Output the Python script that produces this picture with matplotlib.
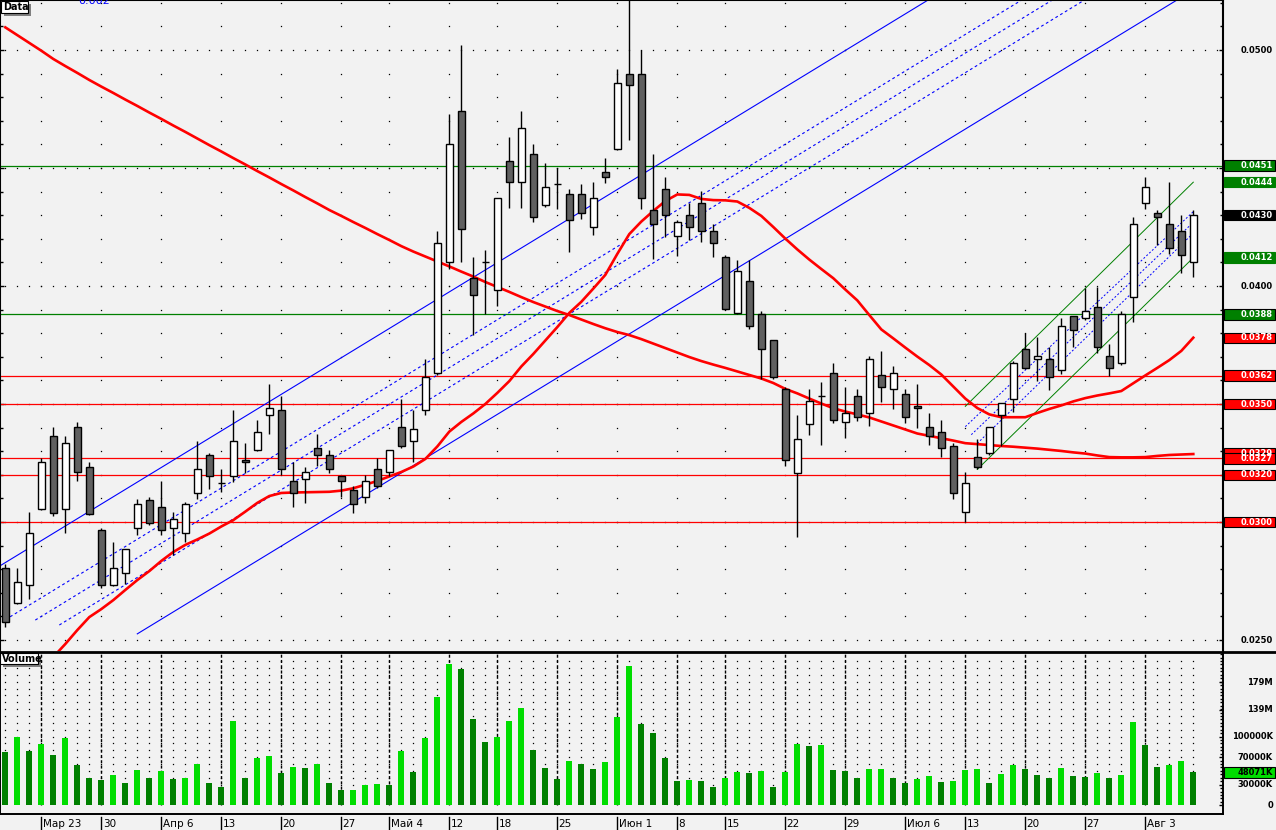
import matplotlib
matplotlib.use("Agg")
import matplotlib.pyplot as plt
import numpy as np
from matplotlib import transforms
from matplotlib.patches import Rectangle
from matplotlib.lines import Line2D

# ---------------- data ----------------
tick_pos = [3, 8, 13, 18, 23, 28, 32, 37, 41, 46, 51, 56, 60, 65, 70, 75, 80, 85, 90, 95]
tick_labels = ["Мар 23", "30", "Апр 6", "13", "20", "27", "Май 4", "12", "18", "25",
               "Июн 1", "8", "15", "22", "29", "Июл 6", "13", "20", "27", "Авг 3"]

opens = [0.02804, 0.02656, 0.02732, 0.03054, 0.03364, 0.03054, 0.03401, 0.03232, 0.02966, 0.02732,
         0.02783, 0.02973, 0.03092, 0.03062, 0.02973, 0.02955, 0.03122, 0.03283, 0.03164, 0.03194,
         0.03261, 0.03304, 0.03452, 0.03473, 0.03172, 0.03181, 0.03312, 0.03283, 0.03194, 0.03134,
         0.03105, 0.03223, 0.03211, 0.03401, 0.03342, 0.03473, 0.03630, 0.04100, 0.04740, 0.04034,
         0.04100, 0.03982, 0.04528, 0.04439, 0.04558, 0.04342, 0.04432, 0.04389, 0.04389, 0.04249,
         0.04482, 0.04579, 0.04897, 0.04897, 0.04321, 0.04410, 0.04211, 0.04300, 0.04350, 0.04232,
         0.04122, 0.03884, 0.04020, 0.03880, 0.03770, 0.03562, 0.03206, 0.03414, 0.03533, 0.03630,
         0.03422, 0.03533, 0.03461, 0.03622, 0.03562, 0.03541, 0.03490, 0.03401, 0.03380, 0.03321,
         0.03041, 0.03274, 0.03291, 0.03452, 0.03520, 0.03732, 0.03689, 0.03689, 0.03643, 0.03872,
         0.03863, 0.03910, 0.03702, 0.03672, 0.03952, 0.04350, 0.04308, 0.04261, 0.04232, 0.04100]
highs = [0.02822, 0.02804, 0.03041, 0.03270, 0.03404, 0.03364, 0.03424, 0.03254, 0.02975, 0.02914,
         0.02886, 0.03096, 0.03105, 0.03175, 0.03041, 0.03083, 0.03342, 0.03291, 0.03223, 0.03473,
         0.03333, 0.03431, 0.03585, 0.03534, 0.03253, 0.03232, 0.03372, 0.03304, 0.03195, 0.03153,
         0.03198, 0.03270, 0.03306, 0.03521, 0.03473, 0.03689, 0.04233, 0.04729, 0.05021, 0.04122,
         0.04153, 0.04375, 0.04633, 0.04742, 0.04602, 0.04520, 0.04499, 0.04410, 0.04432, 0.04439,
         0.04541, 0.04918, 0.05260, 0.05000, 0.04558, 0.04461, 0.04278, 0.04350, 0.04401, 0.04261,
         0.04130, 0.04110, 0.04110, 0.03893, 0.03772, 0.03571, 0.03452, 0.03562, 0.03592, 0.03672,
         0.03571, 0.03562, 0.03702, 0.03723, 0.03660, 0.03562, 0.03583, 0.03461, 0.03431, 0.03333,
         0.03211, 0.03350, 0.03403, 0.03505, 0.03681, 0.03800, 0.03783, 0.03740, 0.03863, 0.03873,
         0.03990, 0.03994, 0.03753, 0.03893, 0.04291, 0.04461, 0.04321, 0.04439, 0.04300, 0.04321]
lows = [0.02556, 0.02654, 0.02675, 0.03050, 0.03027, 0.02955, 0.03175, 0.03030, 0.02719, 0.02728,
        0.02736, 0.02945, 0.02986, 0.02945, 0.02859, 0.02914, 0.03096, 0.03139, 0.03126, 0.03168,
        0.03206, 0.03300, 0.03374, 0.03199, 0.03065, 0.03079, 0.03236, 0.03206, 0.03105, 0.03037,
        0.03079, 0.03143, 0.03196, 0.03312, 0.03253, 0.03455, 0.03625, 0.04073, 0.04103, 0.03794,
        0.03881, 0.03914, 0.04332, 0.04332, 0.04272, 0.04333, 0.04325, 0.04143, 0.04283, 0.04215,
        0.04435, 0.04575, 0.04619, 0.04325, 0.04113, 0.04206, 0.04126, 0.04194, 0.04185, 0.04124,
        0.03899, 0.03880, 0.03817, 0.03605, 0.03605, 0.03236, 0.02938, 0.03367, 0.03325, 0.03418,
        0.03355, 0.03427, 0.03405, 0.03507, 0.03478, 0.03418, 0.03397, 0.03325, 0.03274, 0.03096,
        0.02999, 0.03223, 0.03283, 0.03321, 0.03465, 0.03647, 0.03596, 0.03558, 0.03626, 0.03743,
        0.03855, 0.03715, 0.03617, 0.03664, 0.03846, 0.04325, 0.04172, 0.04134, 0.04054, 0.04037]
closes = [0.02575, 0.02745, 0.02952, 0.03253, 0.03039, 0.03333, 0.03211, 0.03033, 0.02732, 0.02804,
          0.02884, 0.03075, 0.02994, 0.02965, 0.03011, 0.03075, 0.03223, 0.03194, 0.03164, 0.03342,
          0.03253, 0.03380, 0.03482, 0.03223, 0.03122, 0.03211, 0.03283, 0.03223, 0.03172, 0.03075,
          0.03172, 0.03151, 0.03304, 0.03321, 0.03393, 0.03613, 0.04181, 0.04600, 0.04240, 0.03961,
          0.04100, 0.04372, 0.04439, 0.04669, 0.04291, 0.04418, 0.04432, 0.04278, 0.04308, 0.04372,
          0.04461, 0.04859, 0.04850, 0.04372, 0.04261, 0.04300, 0.04270, 0.04249, 0.04232, 0.04181,
          0.03901, 0.04062, 0.03829, 0.03732, 0.03613, 0.03261, 0.03350, 0.03511, 0.03533, 0.03431,
          0.03461, 0.03444, 0.03689, 0.03571, 0.03630, 0.03444, 0.03482, 0.03363, 0.03312, 0.03122,
          0.03164, 0.03232, 0.03401, 0.03503, 0.03672, 0.03651, 0.03702, 0.03613, 0.03829, 0.03812,
          0.03893, 0.03740, 0.03651, 0.03880, 0.04261, 0.04418, 0.04291, 0.04160, 0.04130, 0.04300]

# volume, millions
volumes = [77.1, 99.0, 78.6, 88.8, 72.8, 97.5, 58.2, 39.3, 36.4, 43.7,
           32.0, 50.9, 39.3, 49.5, 37.8, 39.3, 59.7, 32.0, 26.2, 122.3,
           39.3, 68.4, 71.3, 46.6, 55.3, 53.9, 59.7, 32.0, 21.8, 22.2,
           29.1, 30.6, 29.1, 78.6, 48.0, 97.5, 157.2, 205.2, 198.0, 125.2,
           91.7, 99.0, 122.3, 141.2, 80.1, 53.9, 37.8, 64.0, 59.7, 52.4,
           62.6, 128.1, 202.3, 117.9, 104.8, 68.4, 34.9, 36.4, 36.0, 26.2,
           39.3, 48.0, 46.6, 49.5, 26.2, 48.0, 88.8, 85.9, 87.3, 50.9,
           49.5, 39.3, 52.4, 52.8, 39.3, 32.0, 37.8, 42.2, 33.5, 34.9,
           50.9, 52.4, 32.0, 45.1, 58.2, 52.4, 43.7, 39.3, 53.9, 42.2,
           40.8, 46.6, 39.3, 43.7, 120.8, 87.3, 55.3, 58.2, 64.0, 48.0]

# short moving average, starts at bar 4
ma_short_start = 4
ma_short = [0.02428, 0.02483, 0.02542, 0.02597, 0.02631, 0.02669, 0.02712, 0.02754, 0.02792, 0.02835,
            0.02873, 0.02903, 0.02926, 0.02951, 0.02981, 0.03008, 0.03044, 0.03081, 0.03110, 0.03123,
            0.03125, 0.03126, 0.03127, 0.03128, 0.03133, 0.03143, 0.03158, 0.03174, 0.03193, 0.03212,
            0.03235, 0.03267, 0.03320, 0.03383, 0.03424, 0.03460, 0.03500, 0.03547, 0.03597, 0.03659,
            0.03712, 0.03769, 0.03826, 0.03886, 0.03933, 0.03989, 0.04047, 0.04136, 0.04220, 0.04273,
            0.04318, 0.04360, 0.04388, 0.04386, 0.04369, 0.04364, 0.04363, 0.04358, 0.04331, 0.04297,
            0.04250, 0.04201, 0.04155, 0.04112, 0.04072, 0.04033, 0.03985, 0.03939, 0.03877, 0.03816,
            0.03778, 0.03739, 0.03701, 0.03665, 0.03625, 0.03574, 0.03523, 0.03483, 0.03456, 0.03444,
            0.03444, 0.03444, 0.03462, 0.03479, 0.03494, 0.03511, 0.03525, 0.03536, 0.03545, 0.03555,
            0.03588, 0.03621, 0.03653, 0.03686, 0.03725, 0.03781]
# long moving average
ma_long = [0.05096, 0.05063, 0.05030, 0.04997, 0.04962, 0.04932, 0.04903, 0.04873, 0.04845, 0.04818,
           0.04790, 0.04763, 0.04735, 0.04708, 0.04680, 0.04653, 0.04625, 0.04597, 0.04570, 0.04542,
           0.04515, 0.04487, 0.04460, 0.04432, 0.04405, 0.04377, 0.04350, 0.04322, 0.04297, 0.04271,
           0.04246, 0.04220, 0.04195, 0.04169, 0.04146, 0.04125, 0.04104, 0.04083, 0.04061, 0.04040,
           0.04017, 0.03996, 0.03975, 0.03953, 0.03932, 0.03913, 0.03894, 0.03877, 0.03858, 0.03839,
           0.03821, 0.03805, 0.03792, 0.03775, 0.03756, 0.03737, 0.03718, 0.03699, 0.03682, 0.03667,
           0.03653, 0.03638, 0.03623, 0.03608, 0.03589, 0.03564, 0.03545, 0.03523, 0.03502, 0.03482,
           0.03468, 0.03456, 0.03443, 0.03426, 0.03409, 0.03392, 0.03375, 0.03365, 0.03355, 0.03345,
           0.03334, 0.03330, 0.03326, 0.03322, 0.03319, 0.03315, 0.03311, 0.03306, 0.03301, 0.03295,
           0.03290, 0.03282, 0.03275, 0.03274, 0.03274, 0.03275, 0.03280, 0.03284, 0.03286, 0.03288]

# horizontal levels
green_levels = [0.0451, 0.0388]
red_levels = [0.0362, 0.0350, 0.0327, 0.0320, 0.0300]

# blue regression channel: (bar index start, end), (price start, end)
chan_solid = [([-0.5, 80.0], [0.028125, 0.05308]),
              ([11.0, 101.5], [0.02526, 0.053315])]
chan_dashed = [([0.4, 86.0], [0.025984, 0.05252]),
               ([2.5, 88.5], [0.025845, 0.052505]),
               ([4.5, 91.0], [0.025635, 0.05245])]
# green short channel
green_chan = [([80.0, 99.0], [0.0349, 0.0444]),
              ([81.0, 99.0], [0.03223, 0.0412])]
green_chan_dashed = [([80.0, 99.0], [0.03404, 0.04315]),
                     ([80.5, 99.0], [0.0337, 0.0427]),
                     ([81.0, 99.0], [0.03333, 0.04224])]

# right side value boxes (value, face colour, text colour, edge colour)
price_boxes = [(0.0451, "#008000", "white", "black"), (0.0444, "#008000", "white", "#008000"),
               (0.0430, "black", "white", "black"), (0.0412, "#008000", "white", "#008000"),
               (0.0388, "#008000", "white", "black"), (0.0378, "#ff0000", "white", "black"),
               (0.0362, "#ff0000", "white", "black"), (0.0350, "#ff0000", "white", "black"),
               (0.0329, "#ff0000", "white", "black"), (0.0327, "#ff0000", "white", "black"),
               (0.0320, "#ff0000", "white", "black"), (0.0300, "#ff0000", "white", "black")]
price_axis_labels = [0.0500, 0.0400, 0.0250]
vol_axis_vals = [0, 30, 70, 100, 139, 179]
vol_axis_labels = ["0", "30000K", "70000K", "100000K", "139M", "179M"]
last_volume_label = "48071K"

# ---------------- layout ----------------
W, H = 1276, 830
BG = "#f2f2f2"


def fx(px):
    return px / W


def fy(py):
    return 1 - py / H


fig = plt.figure(figsize=(W / 100, H / 100), dpi=100, facecolor=BG)
ax = fig.add_axes([0, fy(651), fx(1223), fy(0) - fy(651)])
vax = fig.add_axes([0, fy(814), fx(1223), fy(653) - fy(814)])
for a in (ax, vax):
    a.set_facecolor(BG)
    a.set_xlim(-0.442, 101.475)

ax.set_ylim(0.024534, 0.052119)
vax.set_ylim(-12.7, 221.7)

n = len(opens)
xs = np.arange(n)

# dotted grid in price panel
major_lv = [0.025, 0.030, 0.035, 0.040, 0.045, 0.050]
gx = [i for lv in major_lv for i in range(102)]
gy = [lv for lv in major_lv for i in range(102)]
ax.plot(gx, gy, ls="none", marker="s", ms=0.9, mew=0, color="black", zorder=1)
minor_lv = np.round(np.arange(0.025, 0.0525, 0.001), 4)
vx = [t for t in tick_pos for lv in minor_lv]
vy = [lv for t in tick_pos for lv in minor_lv]
ax.plot(vx, vy, ls="none", marker="s", ms=0.9, mew=0, color="black", zorder=1)

# horizontal levels
for lv in green_levels:
    ax.axhline(lv, color="#008000", lw=0.9, zorder=2)
for lv in red_levels:
    ax.axhline(lv, color="#ff0000", lw=0.9, zorder=2)

# channels
for cx, cy in chan_solid:
    ax.plot(cx, cy, color="#0000ff", lw=0.8, zorder=2)
for cx, cy in chan_dashed:
    ax.plot(cx, cy, color="#0000ff", lw=0.8, ls=(0, (2.5, 2.5)), zorder=2)
for cx, cy in green_chan:
    ax.plot(cx, cy, color="#008000", lw=0.7, zorder=2)
for cx, cy in green_chan_dashed:
    ax.plot(cx, cy, color="#0000ff", lw=0.7, ls=(0, (2.0, 2.0)), zorder=2)

# moving averages
ax.plot(np.arange(n), ma_long, color="#ff0000", lw=1.9, zorder=3)
ax.plot(np.arange(ma_short_start, n), ma_short, color="#ff0000", lw=1.9, zorder=3)

# candles
ax.vlines(xs, lows, highs, color="black", lw=1.0, zorder=4)
bw = 0.62
for i in range(n):
    o, c = opens[i], closes[i]
    if abs(c - o) < 1e-7:
        ax.hlines(o, i - bw / 2, i + bw / 2, color="black", lw=1.0, zorder=5)
        continue
    fill = "white" if c > o else "#606060"
    ax.bar(i, abs(c - o), bottom=min(o, c), width=bw, color=fill,
           edgecolor="black", linewidth=1.0, zorder=5)

# price axis styling
for s in ("left", "top", "right"):
    ax.spines[s].set_color("black")
    ax.spines[s].set_linewidth(1.5)
ax.spines["bottom"].set_visible(False)
ax.set_xticks([])
ax.set_yticks(major_lv)
ax.set_yticks(minor_lv, minor=True)
ax.tick_params(axis="y", which="both", direction="in", left=True, right=True,
               labelleft=False, labelright=False, color="black")
ax.tick_params(axis="y", which="major", length=3.0, width=1)
ax.tick_params(axis="y", which="minor", length=2.0, width=1)

ptrans = transforms.blended_transform_factory(fig.transFigure, ax.transData)
for lv in price_axis_labels:
    ax.text(fx(1273), lv, f"{lv:.4f}", transform=ptrans, ha="right", va="center",
            fontsize=6, fontweight="bold", color="black", clip_on=False)
box_h = 10.5 / 23600
for val, fc, tc, ec in price_boxes:
    ax.add_patch(Rectangle((fx(1224), val - box_h / 2), fx(51), box_h, transform=ptrans,
                           facecolor=fc, edgecolor=ec, lw=0.8, clip_on=False, zorder=10))
    ax.text(fx(1273), val, f"{val:.4f}", transform=ptrans, ha="right", va="center",
            fontsize=6, fontweight="bold", color=tc, clip_on=False, zorder=11)

# ---------------- volume ----------------
vdx = [i for i in range(n) for k in range(1, 22)]
vdy = [10 * k for i in range(n) for k in range(1, 22)]
vax.plot(vdx, vdy, ls="none", marker="s", ms=0.9, mew=0, color="black", zorder=1)
vax.vlines(tick_pos, 0, 222, colors="black", lw=1.0, linestyles=(0, (2.2, 1.6)), zorder=1)
vcols = ["#008000"] + ["#00dd00" if volumes[i] > volumes[i - 1] else "#008000" for i in range(1, n)]
vax.bar(xs, volumes, width=0.47, color=vcols, zorder=2)

for s in ("left", "right", "bottom"):
    vax.spines[s].set_color("black")
    vax.spines[s].set_linewidth(1.4)
vax.spines["top"].set_visible(False)
vax.set_xticks([])
vax.yaxis.set_ticks_position("right")
vax.set_yticks(vol_axis_vals)
vax.set_yticks(np.arange(0, 221, 5), minor=True)
vax.tick_params(axis="y", which="both", direction="in", labelright=False, color="black")
vax.tick_params(axis="y", which="major", length=3.0, width=1)
vax.tick_params(axis="y", which="minor", length=2.0, width=1)

vtrans = transforms.blended_transform_factory(fig.transFigure, vax.transData)
for v, lab in zip(vol_axis_vals, vol_axis_labels):
    vax.text(fx(1273), v, lab, transform=vtrans, ha="right", va="center",
             fontsize=6, fontweight="bold", color="black", clip_on=False)
vb_h = 15.5
vax.add_patch(Rectangle((fx(1224), volumes[-1] - vb_h / 2), fx(51), vb_h, transform=vtrans,
                        facecolor="#00dd00", edgecolor="black", lw=0.8, clip_on=False, zorder=10))
vax.text(fx(1273), volumes[-1], last_volume_label, transform=vtrans, ha="right", va="center",
         fontsize=6, fontweight="bold", color="black", clip_on=False, zorder=11)

# date labels below volume panel
dtrans = transforms.blended_transform_factory(vax.transData, fig.transFigure)
for t, lab in zip(tick_pos, tick_labels):
    vax.add_line(Line2D([t, t], [fy(817), fy(830)], transform=dtrans, color="black",
                        lw=1.0, clip_on=False))
    vax.text(t + 0.12, fy(823.5), lab, transform=dtrans, ha="left", va="center",
             fontsize=7.5, color="black", clip_on=False)

# separator between panels
fig.add_artist(Line2D([0, 1], [fy(652), fy(652)], color="black", lw=2.0))


# panel title boxes
def title_box(x0, y0, w, h, text):
    fig.add_artist(Rectangle((fx(x0 + 3), fy(y0 + h + 3)), fx(w), h / H, facecolor="#808080",
                             edgecolor="none", transform=fig.transFigure))
    fig.add_artist(Rectangle((fx(x0), fy(y0 + h)), fx(w), h / H, facecolor="white",
                             edgecolor="black", lw=0.8, transform=fig.transFigure))
    fig.text(fx(x0 + 2), fy(y0 + h / 2), text, ha="left", va="center", fontsize=7,
             fontweight="bold", color="black")


title_box(1, 1, 27, 12, "Data")
title_box(0, 653, 38, 11, "Volume")

# partly visible label at the top edge (cut off in the original too)
fig.text(fx(78), fy(3.5), "0.002", ha="left", va="baseline", fontsize=8, color="#0000ff")

fig.savefig("out.png", dpi=100, facecolor=BG)
